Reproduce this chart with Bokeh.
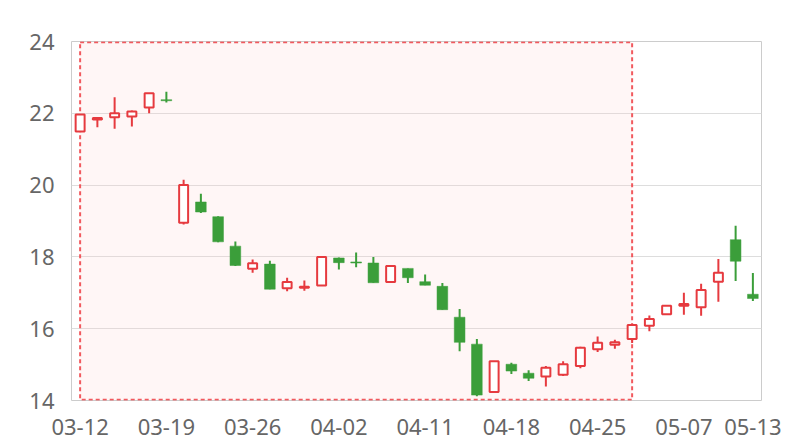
from bokeh.plotting import figure
from bokeh.models import FixedTicker, ColumnDataSource
from bokeh.embed import file_html
from bokeh.resources import INLINE

dates = ["03-12", "03-13", "03-14", "03-15", "03-18", "03-19", "03-20", "03-21",
         "03-22", "03-25", "03-26", "03-27", "03-28", "03-29", "04-01", "04-02",
         "04-03", "04-08", "04-09", "04-10", "04-11", "04-12", "04-15", "04-16",
         "04-17", "04-18", "04-19", "04-22", "04-23", "04-24", "04-25", "04-26",
         "04-29", "04-30", "05-06", "05-07", "05-08", "05-09", "05-10", "05-13"]
opens = [21.49, 21.83, 21.89, 21.91, 22.16, 22.38, 18.95, 19.53, 19.12, 18.30,
         17.67, 17.80, 17.13, 17.14, 17.20, 17.97, 17.86, 17.83, 17.30, 17.68,
         17.31, 17.18, 16.32, 15.57, 14.24, 15.01, 14.76, 14.67, 14.72, 14.96,
         15.43, 15.55, 15.71, 16.08, 16.40, 16.64, 16.60, 17.31, 18.48, 16.96]
closes = [21.97, 21.87, 22.00, 22.05, 22.56, 22.35, 20.00, 19.25, 18.42, 17.76,
          17.82, 17.10, 17.30, 17.17, 18.00, 17.84, 17.83, 17.28, 17.75, 17.42,
          17.21, 16.53, 15.62, 14.15, 15.09, 14.82, 14.62, 14.91, 15.01, 15.47,
          15.61, 15.62, 16.10, 16.27, 16.64, 16.69, 17.08, 17.56, 17.88, 16.84]
highs = [21.97, 21.88, 22.45, 22.08, 22.56, 22.60, 20.15, 19.76, 19.13, 18.43,
         17.93, 17.89, 17.42, 17.34, 18.01, 17.98, 18.12, 18.00, 17.75, 17.68,
         17.51, 17.27, 16.55, 15.71, 15.09, 15.05, 14.84, 14.96, 15.09, 15.50,
         15.78, 15.69, 16.14, 16.37, 16.64, 17.00, 17.25, 17.94, 18.87, 17.55]
lows = [21.49, 21.61, 21.57, 21.63, 22.00, 22.30, 18.90, 19.22, 18.41, 17.75,
        17.56, 17.10, 17.04, 17.06, 17.20, 17.65, 17.71, 17.28, 17.30, 17.27,
        17.21, 16.53, 15.37, 14.12, 14.24, 14.74, 14.54, 14.39, 14.68, 14.90,
        15.35, 15.44, 15.60, 15.93, 16.40, 16.39, 16.36, 16.75, 17.33, 16.77]
tick_labels = ["03-12", "03-19", "03-26", "04-02", "04-11", "04-18", "04-25", "05-07", "05-13"]
area_start = "03-12"
area_end = "04-29"
y_min, y_max = 14, 24

RED = "#e63a3f"
GREEN = "#3b9e3a"

idx = list(range(len(dates)))
up = [c >= o for o, c in zip(opens, closes)]


def subset(flag):
    sel = [i for i in idx if up[i] == flag]
    return ColumnDataSource(dict(
        x=sel,
        top=[max(opens[i], closes[i]) for i in sel],
        bottom=[min(opens[i], closes[i]) for i in sel],
        high=[highs[i] for i in sel],
        low=[lows[i] for i in sel],
    ))


src_up = subset(True)
src_dn = subset(False)

p = figure(width=784, height=440, output_backend="svg", toolbar_location=None,
           x_range=(-0.5, len(dates) - 0.5), y_range=(y_min, y_max),
           min_border_left=71, min_border_right=23, min_border_top=41, min_border_bottom=40)
p.background_fill_color = "white"
p.border_fill_color = "white"
p.outline_line_color = "#cccccc"
p.outline_line_width = 1

# marked area
a0 = dates.index(area_start)
a1 = dates.index(area_end)
p.quad(left=[a0], right=[a1], bottom=[y_min + 0.02], top=[y_max - 0.02],
       fill_color="#ffcccc", fill_alpha=0.18,
       line_color="#f0474d", line_alpha=0.9, line_width=2, line_dash="4 3")

# wicks
p.segment(x0="x", y0="low", x1="x", y1="high", source=src_up, line_color=RED, line_width=2)
p.segment(x0="x", y0="low", x1="x", y1="high", source=src_dn, line_color=GREEN, line_width=2)
# bodies
p.vbar(x="x", top="top", bottom="bottom", width=0.52, source=src_up,
       fill_color="white", line_color=RED, line_width=2)
p.vbar(x="x", top="top", bottom="bottom", width=0.62, source=src_dn,
       fill_color=GREEN, line_color=GREEN, line_width=0.5)

# axes
p.xgrid.grid_line_color = None
p.ygrid.grid_line_color = "#dddddd"
p.ygrid.grid_line_width = 1
p.yaxis.ticker = FixedTicker(ticks=list(range(y_min, y_max + 1, 2)))
tick_pos = [dates.index(t) for t in tick_labels]
p.xaxis.ticker = FixedTicker(ticks=tick_pos)
p.xaxis.major_label_overrides = {dates.index(t): t for t in tick_labels}
for ax in (p.xaxis, p.yaxis):
    ax.axis_line_color = None
    ax.major_tick_line_color = None
    ax.minor_tick_line_color = None
    ax.major_tick_out = 0
    ax.major_tick_in = 0
    ax.major_label_text_font = "Noto Sans"
    ax.major_label_text_font_size = "22px"
    ax.major_label_text_color = "#666666"
p.xaxis.major_label_standoff = 18
p.yaxis.major_label_standoff = 17

open("out.html", "w").write(file_html(p, INLINE))
